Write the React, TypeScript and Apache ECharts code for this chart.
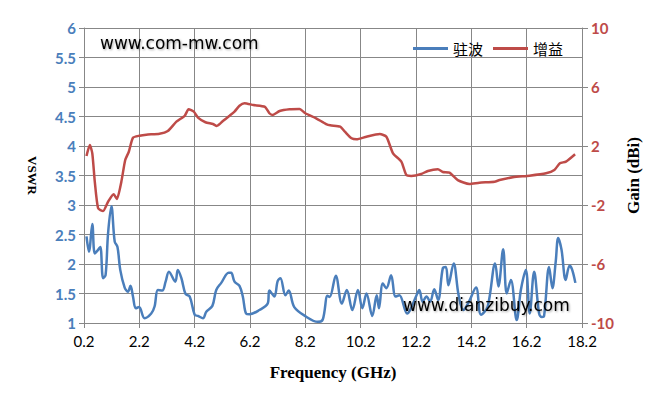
import React, { useEffect, useRef } from "react";
import * as echarts from "echarts";

const vswrFreq = [0.29,0.38,0.5,0.59,0.71,0.79,0.89,0.98,1.07,1.19,1.31,1.41,1.51,1.67,1.79,1.88,1.97,2.07,2.19,2.39,2.63,2.75,2.87,3.03,3.15,3.27,3.5,3.59,3.72,3.87,4.02,4.2,4.32,4.5,4.62,4.84,4.98,5.16,5.43,5.52,5.64,5.82,5.94,6.06,6.18,6.54,6.84,6.9,7.08,7.2,7.3,7.48,7.6,7.8,8.22,8.65,8.83,9.0,9.08,9.3,9.52,9.7,9.9,10.1,10.26,10.41,10.62,10.78,10.86,11.0,11.13,11.3,11.46,11.6,11.88,11.99,12.2,12.32,12.44,12.58,12.71,12.86,13.0,13.17,13.28,13.37,13.56,13.74,13.91,14.1,14.37,14.55,14.79,15.06,15.18,15.35,15.48,15.63,15.84,15.99,16.17,16.31,16.47,16.65,16.75,16.83,17.01,17.13,17.25,17.34,17.46,17.61,17.75,17.84,17.96];
const vswrValues = [2.47,2.21,2.68,2.18,2.24,2.29,1.76,1.81,2.52,2.98,2.38,2.29,1.9,1.6,1.53,1.63,1.45,1.25,1.27,1.08,1.16,1.28,1.56,1.55,1.7,1.87,1.7,1.9,1.76,1.49,1.45,1.14,1.12,1.08,1.19,1.29,1.56,1.68,1.85,1.85,1.7,1.63,1.45,1.16,1.15,1.22,1.33,1.55,1.45,1.71,1.76,1.47,1.55,1.27,1.11,1.02,1.06,1.46,1.44,1.8,1.33,1.56,1.22,1.56,1.25,1.5,1.12,1.47,1.25,1.67,1.59,1.81,1.45,1.47,1.16,1.22,1.45,1.56,1.36,1.45,1.36,1.57,1.39,1.93,1.95,1.64,2.01,1.47,1.22,1.35,1.6,1.14,1.28,2.01,1.62,2.25,1.5,1.73,1.05,1.56,1.9,1.16,1.87,1.16,1.1,1.12,1.95,1.59,2.04,2.44,2.24,1.73,1.97,1.91,1.68];

const gainFreq = [0.29,0.41,0.5,0.59,0.71,0.89,1.07,1.27,1.39,1.55,1.69,1.82,1.97,2.21,2.45,2.93,3.23,3.54,3.84,3.98,4.17,4.32,4.59,4.86,5.0,5.22,5.46,5.64,5.82,6.0,6.32,6.74,6.9,7.02,7.27,7.63,7.99,8.2,8.59,8.95,9.1,9.46,9.63,9.87,10.05,10.41,10.89,11.13,11.37,11.67,11.85,12.03,12.39,12.63,12.99,13.17,13.41,13.71,14.13,14.49,15.04,15.22,15.7,16.3,16.9,17.2,17.4,17.62,17.95];
const gainValues = [1.32,2.07,1.5,-0.42,-2.22,-2.41,-1.78,-1.27,-1.59,-0.42,1.05,1.61,2.56,2.7,2.77,2.83,3.02,3.65,4.05,4.49,4.33,3.92,3.61,3.49,3.36,3.69,4.05,4.33,4.73,4.9,4.78,4.66,4.22,4.1,4.37,4.49,4.51,4.22,3.88,3.49,3.4,3.31,2.97,2.52,2.45,2.63,2.81,2.63,1.5,0.94,0.03,-0.03,0.1,0.31,0.42,0.24,0.19,-0.31,-0.58,-0.49,-0.42,-0.31,-0.12,-0.01,0.15,0.37,0.83,0.94,1.44];

const seriesNames = ["驻波", "增益"];
const freqStart = 0.2;
const freqEnd = 18.2;
const freqStep = 2;
const vswrMin = 1;
const vswrMax = 6;
const vswrStep = 0.5;
const gainMin = -10;
const gainMax = 10;
const gainStep = 4;

const BLUE = "#4A7EBB";
const RED = "#BE4B48";
const GRID = "#878787";

export default function App() {
  const ref = useRef<HTMLDivElement>(null);
  useEffect(() => {
    document.body.style.margin = "0";
    const chart = echarts.init(ref.current!, undefined, { renderer: "svg" });
    const vData = vswrFreq.map((f, i) => [f - freqStart, vswrValues[i]]);
    const gData = gainFreq.map((f, i) => [f - freqStart, gainValues[i] - gainMin]);
    const wmStyle = {
      fontFamily: "DejaVu Sans",
      fontSize: 17,
      fill: "#000",
      textShadowColor: "rgba(0,0,0,0.35)",
      textShadowBlur: 2,
      textShadowOffsetX: 1,
      textShadowOffsetY: 1,
    };
    chart.setOption({
      animation: false,
      backgroundColor: "#fff",
      grid: { left: 84, right: 80, top: 28, bottom: 80, containLabel: false },
      legend: {
        data: seriesNames,
        left: 408,
        top: 36,
        icon: "rect",
        itemWidth: 35,
        itemHeight: 3,
        itemGap: 10,
        textStyle: { fontSize: 15, fontFamily: "Noto Sans CJK SC", color: "#000" },
      },
      xAxis: {
        type: "value",
        min: 0,
        max: freqEnd - freqStart,
        interval: freqStep,
        name: "Frequency (GHz)",
        nameLocation: "middle",
        nameGap: 41,
        nameTextStyle: { fontFamily: "Liberation Serif", fontWeight: "bold", fontSize: 17, color: "#000" },
        axisLine: { show: true, lineStyle: { color: GRID } },
        axisTick: { show: true, length: 5, lineStyle: { color: GRID } },
        axisLabel: {
          fontFamily: "Lato",
          fontSize: 15,
          color: "#000",
          margin: 10,
          formatter: (v: number) => (v + freqStart).toFixed(1),
        },
        splitLine: { show: true, lineStyle: { color: GRID, width: 1 } },
      },
      yAxis: [
        {
          type: "value",
          min: vswrMin,
          max: vswrMax,
          interval: vswrStep,
          name: "VSWR",
          nameLocation: "middle",
          nameRotate: -90,
          nameGap: 45,
          nameTextStyle: { fontFamily: "Liberation Serif", fontWeight: "bold", fontSize: 13, color: "#000" },
          axisLine: { show: true, lineStyle: { color: GRID } },
          axisTick: { show: true, length: 5, lineStyle: { color: GRID } },
          axisLabel: { fontFamily: "Lato", fontWeight: "bold", fontSize: 15, color: BLUE, margin: 8 },
          splitLine: { show: true, lineStyle: { color: GRID, width: 1 } },
        },
        {
          type: "value",
          position: "right",
          min: 0,
          max: gainMax - gainMin,
          interval: gainStep,
          name: "Gain (dBi)",
          nameLocation: "middle",
          nameRotate: 90,
          nameGap: 43,
          nameTextStyle: { fontFamily: "Liberation Serif", fontWeight: "bold", fontSize: 17, color: "#000" },
          axisLine: { show: true, lineStyle: { color: GRID } },
          axisTick: { show: true, length: 6, lineStyle: { color: GRID } },
          axisLabel: {
            fontFamily: "Lato",
            fontWeight: "bold",
            fontSize: 15,
            color: RED,
            margin: 9,
            formatter: (v: number) => String(Math.round(v + gainMin)),
          },
          splitLine: { show: false },
        },
      ],
      graphic: [
        { type: "text", left: 100, top: 34, z: 100, style: { ...wmStyle, text: "www.com-mw.com" } },
        { type: "text", left: 403, top: 296, z: 100, style: { ...wmStyle, text: "www.dianzibuy.com" } },
      ],
      series: [
        {
          name: seriesNames[0],
          type: "line",
          yAxisIndex: 0,
          data: vData,
          smooth: 0.35,
          symbol: "none",
          color: BLUE,
          lineStyle: { color: BLUE, width: 2.5 },
        },
        {
          name: seriesNames[1],
          type: "line",
          yAxisIndex: 1,
          data: gData,
          smooth: 0.2,
          symbol: "none",
          color: RED,
          lineStyle: { color: RED, width: 2.5 },
        },
      ],
    });
    return () => chart.dispose();
  }, []);
  return <div ref={ref} style={{ width: 662, height: 403 }} />;
}
